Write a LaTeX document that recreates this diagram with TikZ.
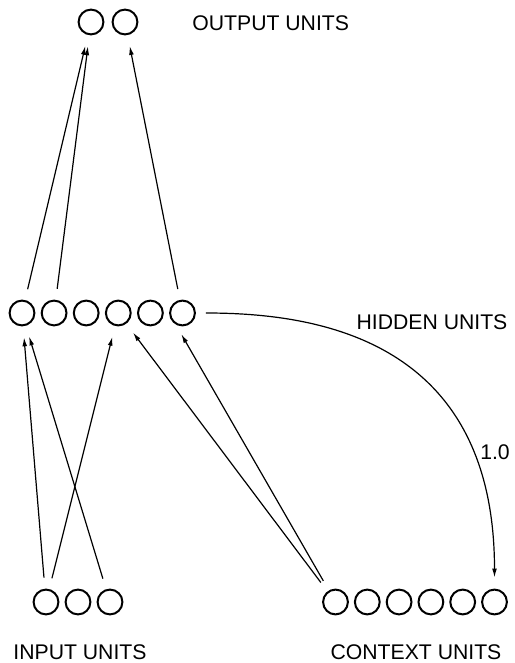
\documentclass[tikz,border=0pt]{standalone}
\usepackage{fontspec}
\setmainfont{Liberation Sans}
\usetikzlibrary{arrows.meta}

\begin{document}
\begin{tikzpicture}[x=0.5pt,y=-0.5pt,
    unit/.style={circle,draw,line width=1pt,inner sep=0pt,minimum size=12.4pt},
    lab/.style={inner sep=0pt,font=\fontsize{10.6}{12}\selectfont},
    wire/.style={line width=0.6pt,-{Latex[length=4.5pt,width=2.4pt]},shorten <=5.5pt,shorten >=5.5pt}]
\useasboundingbox (0,0) rectangle (514,663);
\node[unit] (out1) at (91,22) {};
\node[unit] (out2) at (125,22) {};
\foreach \i in {1,...,6}
    \node[unit] (hid\i) at ({22+32.1*(\i-1)},313) {};
\foreach \i in {1,2,3}
    \node[unit] (in\i) at ({46+32*(\i-1)},602) {};
\foreach \i in {1,...,6}
    \node[unit] (ctx\i) at ({335.5+31.8*(\i-1)},602) {};
\node[lab,anchor=west] (outlab) at (192,23) {OUTPUT UNITS};
\node[lab] (hidlab) at (432,322) {HIDDEN UNITS};
\node[lab] (inlab) at (80,652) {INPUT UNITS};
\node[lab] (ctxlab) at (416,652) {CONTEXT UNITS};
\node[lab] (wgt) at (495,452) {1.0};
\draw[wire] (hid1) -- (out1);
\draw[wire] (hid2) -- (out1);
\draw[wire] (hid6) -- (out2);
\draw[wire] (in1) -- (hid1);
\draw[wire] (in1) -- (hid4);
\draw[wire] (in3) -- (hid1);
\draw[wire] (ctx1) -- (hid4);
\draw[wire] (ctx1) -- (hid6.-120);
\draw[wire,shorten <=5pt] (hid6.east) .. controls +(120,0) and +(0,-250) .. (ctx6.north);
\end{tikzpicture}
\end{document}
